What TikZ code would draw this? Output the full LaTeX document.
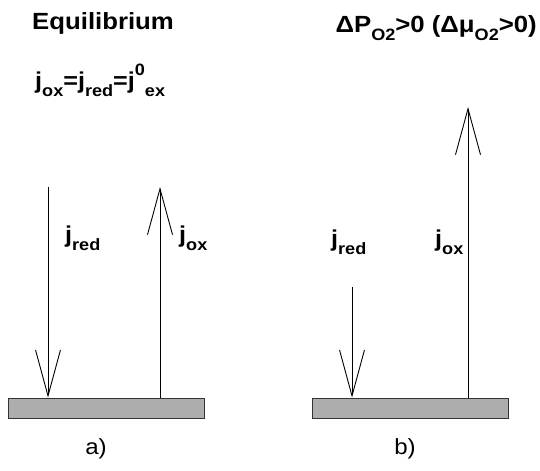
\documentclass[tikz,border=0pt]{standalone}
\usepackage{fontspec}
\setmainfont[FakeStretch=1.1]{Liberation Sans}
\usepackage{tikz}
\usetikzlibrary{arrows.meta}
\tikzset{
  plate/.style={draw=black!80,fill=black!32,line width=0.8pt,minimum width=196bp,minimum height=20bp,inner sep=0pt},
  flux/.style={line width=0.9pt,-{Straight Barb[length=46bp,width=25bp,line width=0.9pt]}},
  lbl/.style={font=\fontsize{23}{26}\selectfont\bfseries,inner sep=0pt,anchor=base west},
  ttl/.style={font=\fontsize{23.5}{26}\selectfont\bfseries,inner sep=0pt,anchor=base west},
  panel/.style={font=\fontsize{22}{24}\selectfont,inner sep=0pt}
}
\newcommand{\sbs}[1]{\raisebox{-0.6ex}{\fontsize{16.5}{17}\selectfont\bfseries #1}}
\newcommand{\sps}[1]{\raisebox{1.1ex}{\fontsize{16.5}{17}\selectfont\bfseries #1}}
\begin{document}
\begin{tikzpicture}[x=1bp,y=1bp]
\useasboundingbox (0,0) rectangle (540,471);
% a) equilibrium
\node[plate] (bara) at (106,63) {};
\coordinate (reda) at (48,284); \coordinate (oxa) at (160,284);
\draw[flux] (reda) -- (reda |- bara.north);
\draw[flux] (oxa |- bara.north) -- (oxa);
\node[lbl] (jreda) at (65,228) {j\sbs{red}};
\node[lbl] (joxa) at (179,228) {j\sbs{ox}};
\node[ttl] (eqt) at (32,441) {Equilibrium};
\node[lbl] (eqj) at (35,382) {j\sbs{ox}=j\sbs{red}=j\sps{0}\sbs{ex}};
\node[panel] (capa) at (96,22) {a)};
% b) oxygen pressure step
\node[plate] (barb) at (410,63) {};
\coordinate (redb) at (352,184); \coordinate (oxb) at (468,364);
\draw[flux] (redb) -- (redb |- barb.north);
\draw[flux] (oxb |- barb.north) -- (oxb);
\node[lbl] (jredb) at (331,224) {j\sbs{red}};
\node[lbl] (joxb) at (435,224) {j\sbs{ox}};
\node[ttl,anchor=base east] (dpt) at (537,438) {ΔP\sbs{O2}>0 (Δμ\sbs{O2}>0)};
\node[panel] (capb) at (405,22) {b)};
\end{tikzpicture}
\end{document}
